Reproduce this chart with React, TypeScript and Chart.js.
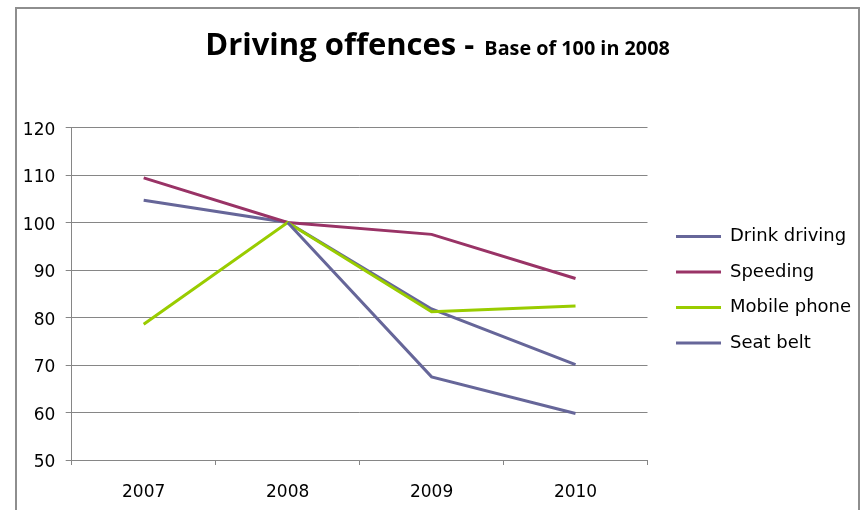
import { useEffect, useRef } from 'react';
import { Chart, registerables } from 'chart.js';

Chart.register(...registerables);

// Index values, 2008 = 100
const years = ['2007', '2008', '2009', '2010'];
const drinkDriving = [104.7, 100, 81.8, 70.1];
const speeding = [109.4, 100, 97.5, 88.2];
const mobilePhone = [78.6, 100, 81.2, 82.4];
const seatBelt = [null, 100, 67.5, 59.8];

const seriesNames = ['Drink driving', 'Speeding', 'Mobile phone', 'Seat belt'];
const seriesColors = ['#666699', '#993366', '#99CC00', '#666699'];

const titleMain = 'Driving offences - ';
const titleSub = 'Base of 100 in 2008';

const tickFamily = '"DejaVu Sans", sans-serif';
const titleFamily = '"Open Sans", sans-serif';
const gridColor = '#868686';

// Title with a large lead-in and a smaller trailing note on one baseline
const splitTitle = {
  id: 'splitTitle',
  afterDraw(chart: any) {
    const ctx = chart.ctx as CanvasRenderingContext2D;
    ctx.save();
    const big = `bold 31px ${titleFamily}`;
    const small = `bold 19.8px ${titleFamily}`;
    ctx.font = big;
    const w1 = ctx.measureText(titleMain).width;
    ctx.font = small;
    const w2 = ctx.measureText(titleSub).width;
    const x = chart.width / 2 + 1 - (w1 + w2) / 2;
    const y = 46;
    ctx.fillStyle = '#000';
    ctx.textAlign = 'left';
    ctx.textBaseline = 'alphabetic';
    ctx.font = big;
    ctx.fillText(titleMain, x - 2, y);
    ctx.font = small;
    ctx.fillText(titleSub, x + w1, y);
    ctx.restore();
  },
};

// Leave a wider gap between the plot and the legend
const legendGap = {
  id: 'legendGap',
  afterLayout(chart: any) {
    const lg = chart.legend;
    if (!lg) return;
    lg.left += 11;
    lg.right += 11;
    lg.top -= 4;
    lg.bottom -= 4;
  },
};

export default function App() {
  const canvasRef = useRef<HTMLCanvasElement | null>(null);

  useEffect(() => {
    const canvas = canvasRef.current;
    if (!canvas) return;
    const values = [drinkDriving, speeding, mobilePhone, seatBelt];
    const chart = new Chart(canvas, {
      type: 'line',
      data: {
        labels: years,
        datasets: values.map((data, i) => ({
          label: seriesNames[i],
          data,
          borderColor: seriesColors[i],
          backgroundColor: seriesColors[i],
          borderWidth: 3,
          pointRadius: 0,
          pointHoverRadius: 0,
          tension: 0,
          fill: false,
          order: values.length - i,
        })),
      },
      options: {
        responsive: false,
        animation: false,
        layout: { padding: { top: 118.5, left: 0, right: 7.9, bottom: 9 } },
        plugins: {
          title: { display: false },
          tooltip: { enabled: false },
          legend: {
            position: 'right',
            align: 'center',
            fullSize: false,
            labels: {
              usePointStyle: true,
              pointStyle: 'line',
              pointStyleWidth: 45,
              padding: 17.5,
              color: '#000',
              font: { family: tickFamily, size: 18 },
              sort: (a: any, b: any) => a.datasetIndex - b.datasetIndex,
            },
          },
        },
        scales: {
          x: {
            type: 'category',
            offset: true,
            grid: {
              offset: true,
              drawOnChartArea: false,
              drawTicks: true,
              tickLength: 5,
              color: gridColor,
            },
            border: { color: gridColor, width: 1 },
            ticks: {
              color: '#000',
              font: { family: tickFamily, size: 17 },
              padding: 17.5,
              maxRotation: 0,
              autoSkip: false,
            },
            afterFit(scale: any) {
              scale.height = 50;
            },
          },
          y: {
            min: 50,
            max: 120,
            grid: { color: gridColor, tickLength: 6 },
            border: { color: gridColor, width: 1 },
            ticks: {
              stepSize: 10,
              color: '#000',
              font: { family: tickFamily, size: 17 },
              padding: 10.4,
              labelOffset: 2.8,
            },
            afterFit(scale: any) {
              scale.width = 54.7;
            },
          },
        },
      },
      plugins: [splitTitle, legendGap],
    });
    return () => chart.destroy();
  }, []);

  return (
    <div
      style={{
        position: 'fixed',
        left: 15,
        top: 7,
        width: 845,
        height: 520,
        border: '2px solid #8e8e8e',
        boxSizing: 'border-box',
        background: '#fff',
      }}
    >
      <canvas
        ref={canvasRef}
        width={841}
        height={510}
        style={{ display: 'block', width: 841, height: 510 }}
      />
    </div>
  );
}
